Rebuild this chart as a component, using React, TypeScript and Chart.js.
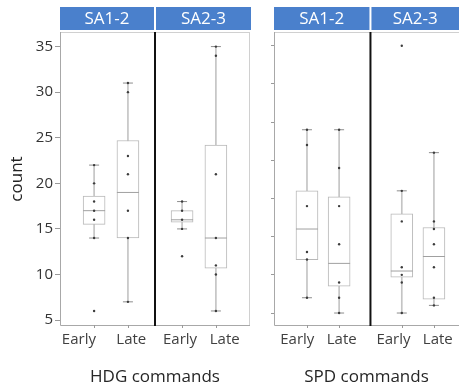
import React, { useEffect, useRef } from "react";
import { Chart, registerables } from "chart.js";

Chart.register(...registerables);

// ---- data ----
const CATEGORIES = ["Early", "Late"];
const FACETS = ["SA1-2", "SA2-3"];
// group order: [SA1-2 Early, SA1-2 Late, SA2-3 Early, SA2-3 Late]

const HDG_Q1 = [15.5, 14, 15.75, 10.7];
const HDG_MEDIAN = [17, 19, 16, 14];
const HDG_Q3 = [18.6, 24.7, 17, 24.2];
const HDG_WHISKER_LOW = [14, 7, 15, 6];
const HDG_WHISKER_HIGH = [22, 31, 18, 35];
const HDG_POINTS = [
  [22, 20, 18, 17, 16, 14, 6],
  [31, 30, 23, 21, 17, 14, 7],
  [18, 17, 16, 15, 12],
  [35, 34, 21, 14, 11, 10, 6],
];

const SPD_Q1 = [7.0, 3.5, 4.7, 1.8];
const SPD_MEDIAN = [11.0, 6.5, 5.5, 7.4];
const SPD_Q3 = [16.0, 15.2, 13.0, 11.2];
const SPD_WHISKER_LOW = [2, 0, 0, 1];
const SPD_WHISKER_HIGH = [24, 24, 16, 21];
const SPD_POINTS = [
  [24, 22, 14, 8, 7, 2],
  [24, 19, 14, 9, 4, 2, 0],
  [35, 16, 12, 6, 5, 4, 0],
  [21, 12, 11, 9, 6, 2, 1],
];

const HDG_Y_TICKS = [5, 10, 15, 20, 25, 30, 35];
const SPD_Y_TICKS = [0, 5, 10, 15, 20, 25, 30, 35];

// ---- layout / style ----
const FONT = '"Open Sans", sans-serif';
const HEADER_BLUE = "#4a80cc";
const BOX_COLOR = "#b8b8b8";
const WHISKER_COLOR = "#c4c4c4";
const CAP_COLOR = "#8c8c8c";
const POINT_COLOR = "#3c3c3c";

type Panel = {
  q1: number[];
  median: number[];
  q3: number[];
  lo: number[];
  hi: number[];
  points: number[][];
  yTicks: number[];
  yMin: number;
  yMax: number;
  facetSpan: number;
  xMin: number;
  xMax: number;
  labelShift: number[];
  yTitle: string | null;
  showYLabels: boolean;
  yAxisWidth: number;
  xTitle: string;
  padRight: number;
  rightBorder: boolean;
};

function groupX(p: Panel, g: number) {
  const facet = Math.floor(g / CATEGORIES.length);
  const cat = g % CATEGORIES.length;
  return facet * p.facetSpan + cat;
}

function decorPlugin(p: Panel) {
  return {
    id: "panelDecor",
    afterDatasetsDraw(chart: any) {
      const { ctx, chartArea: a, scales } = chart;
      const x = scales.x;
      const divVal = (groupX(p, 1) + groupX(p, 2)) / 2;
      const div = x.getPixelForValue(divVal);
      ctx.save();
      // frame top / right
      ctx.lineWidth = 1;
      ctx.strokeStyle = "#d0d0d0";
      ctx.beginPath();
      ctx.moveTo(a.left, a.top + 0.5);
      ctx.lineTo(a.right, a.top + 0.5);
      if (p.rightBorder) {
        ctx.moveTo(a.right - 0.5, a.top);
        ctx.lineTo(a.right - 0.5, a.bottom);
      }
      ctx.stroke();
      // axis lines
      ctx.strokeStyle = "#a8a8a8";
      ctx.beginPath();
      ctx.moveTo(a.left + 0.5, a.top);
      ctx.lineTo(a.left + 0.5, a.bottom - 0.5);
      ctx.lineTo(a.right, a.bottom - 0.5);
      ctx.stroke();
      // x tick marks at group positions
      ctx.strokeStyle = "#999";
      ctx.beginPath();
      for (let g = 0; g < p.q1.length; g++) {
        const px = Math.round(x.getPixelForValue(groupX(p, g))) + 0.5;
        ctx.moveTo(px, a.bottom - 1);
        ctx.lineTo(px, a.bottom + 2);
      }
      ctx.stroke();
      // facet divider
      ctx.strokeStyle = "#111";
      ctx.lineWidth = 2;
      ctx.beginPath();
      ctx.moveTo(div, a.top);
      ctx.lineTo(div, a.bottom);
      ctx.stroke();
      // facet headers
      const hTop = a.top - 25;
      const hBot = a.top - 2;
      const spans = [
        [a.left, div - 1],
        [div + 1, a.right + (p.rightBorder ? 1 : 0)],
      ];
      ctx.font = `17px ${FONT}`;
      ctx.textAlign = "center";
      ctx.textBaseline = "middle";
      FACETS.forEach((f, i) => {
        const [l, r] = spans[i];
        ctx.fillStyle = HEADER_BLUE;
        ctx.fillRect(l, hTop, r - l, hBot - hTop);
        ctx.fillStyle = "#ffffff";
        ctx.fillText(f, (l + r) / 2, (hTop + hBot) / 2 + 1);
      });
      ctx.restore();
    },
  };
}

function buildConfig(p: Panel): any {
  const n = p.q1.length;
  const idx = Array.from({ length: n }, (_, g) => g);
  const whiskers = idx.map((g) => ({ x: groupX(p, g), y: [p.lo[g], p.hi[g]] }));
  const boxes = idx.map((g) => ({ x: groupX(p, g), y: [p.q1[g], p.q3[g]] }));
  const medians = idx.map((g) => ({ x: groupX(p, g), y: p.median[g] }));
  const caps = idx.flatMap((g) => [
    { x: groupX(p, g), y: p.lo[g] },
    { x: groupX(p, g), y: p.hi[g] },
  ]);
  const pts = idx.flatMap((g) => p.points[g].map((v) => ({ x: groupX(p, g), y: v })));

  return {
    type: "bar",
    data: {
      datasets: [
        {
          type: "bar",
          data: whiskers,
          backgroundColor: WHISKER_COLOR,
          borderWidth: 0,
          barThickness: 1,
          grouped: false,
          order: 5,
        },
        {
          type: "bar",
          data: boxes,
          backgroundColor: "#ffffff",
          borderColor: BOX_COLOR,
          borderWidth: 1,
          borderSkipped: false,
          barThickness: 22,
          grouped: false,
          order: 4,
        },
        {
          type: "scatter",
          data: medians,
          pointStyle: "line",
          pointRadius: 11,
          borderColor: "#a0a0a0",
          borderWidth: 1,
          order: 3,
        },
        {
          type: "scatter",
          data: caps,
          pointStyle: "line",
          pointRadius: 5,
          borderColor: CAP_COLOR,
          borderWidth: 1,
          order: 2,
        },
        {
          type: "scatter",
          data: pts,
          pointStyle: "circle",
          pointRadius: 1.2,
          backgroundColor: POINT_COLOR,
          borderWidth: 0,
          order: 1,
        },
      ],
    },
    options: {
      responsive: false,
      animation: false,
      events: [],
      layout: { padding: { top: 32, right: p.padRight, left: 0, bottom: 0 } },
      plugins: { legend: { display: false }, tooltip: { enabled: false } },
      scales: {
        x: {
          type: "linear",
          min: p.xMin,
          max: p.xMax,
          bounds: "data",
          offset: false,
          grid: { display: false, drawTicks: false, offset: false },
          border: { display: false },
          afterBuildTicks: (s: any) => {
            s.ticks = idx.map((g) => ({ value: groupX(p, g) + p.labelShift[g] }));
          },
          afterFit: (s: any) => {
            s.height = 62;
          },
          ticks: {
            autoSkip: false,
            maxRotation: 0,
            minRotation: 0,
            padding: 5,
            color: "#404040",
            font: { family: FONT, size: 15 },
            callback: (_v: any, i: number) => CATEGORIES[i % CATEGORIES.length],
          },
          title: {
            display: true,
            text: p.xTitle,
            color: "#262626",
            font: { family: FONT, size: 17 },
            padding: { top: 0, bottom: 1 },
          },
        },
        y: {
          type: "linear",
          min: p.yMin,
          max: p.yMax,
          bounds: "data",
          afterBuildTicks: (s: any) => {
            s.ticks = p.yTicks.map((v) => ({ value: v }));
          },
          afterFit: (s: any) => {
            s.width = p.yAxisWidth;
          },
          grid: {
            drawOnChartArea: false,
            drawTicks: true,
            tickLength: p.showYLabels ? 5 : 3,
            color: "#9a9a9a",
          },
          border: { display: false },
          ticks: {
            display: p.showYLabels,
            padding: 2,
            color: "#333",
            font: { family: FONT, size: 15 },
          },
          title: {
            display: !!p.yTitle,
            text: p.yTitle || "",
            color: "#222",
            font: { family: FONT, size: 17 },
            padding: { top: 7, bottom: 0 },
          },
        },
      },
    },
    plugins: [decorPlugin(p)],
  };
}

const HDG_PANEL: Panel = {
  q1: HDG_Q1,
  median: HDG_MEDIAN,
  q3: HDG_Q3,
  lo: HDG_WHISKER_LOW,
  hi: HDG_WHISKER_HIGH,
  points: HDG_POINTS,
  yTicks: HDG_Y_TICKS,
  yMin: 4.35,
  yMax: 36.6,
  facetSpan: 2.6,
  xMin: -1.008,
  xMax: 4.608,
  labelShift: [-0.45, 0.1, -0.06, 0.26],
  yTitle: "count",
  showYLabels: true,
  yAxisWidth: 60,
  xTitle: "HDG commands",
  padRight: 7,
  rightBorder: true,
};

const SPD_PANEL: Panel = {
  q1: SPD_Q1,
  median: SPD_MEDIAN,
  q3: SPD_Q3,
  lo: SPD_WHISKER_LOW,
  hi: SPD_WHISKER_HIGH,
  points: SPD_POINTS,
  yTicks: SPD_Y_TICKS,
  yMin: -1.7,
  yMax: 36.8,
  facetSpan: 2.95,
  xMin: -1.026,
  xMax: 4.73,
  labelShift: [-0.3, 0.08, -0.26, 0.12],
  yTitle: null,
  showYLabels: false,
  yAxisWidth: 7,
  xTitle: "SPD commands",
  padRight: 0,
  rightBorder: false,
};

function PanelChart({ panel, left, width }: { panel: Panel; left: number; width: number }) {
  const ref = useRef<HTMLCanvasElement | null>(null);
  useEffect(() => {
    if (!ref.current) return;
    const chart = new Chart(ref.current, buildConfig(panel));
    return () => chart.destroy();
  }, [panel]);
  return (
    <canvas
      ref={ref}
      width={width}
      height={388}
      style={{ position: "absolute", left, top: 0, width, height: 388 }}
    />
  );
}

export default function App() {
  return (
    <div
      style={{
        position: "fixed",
        left: 0,
        top: 0,
        width: 471,
        height: 388,
        background: "#ffffff",
        overflow: "hidden",
      }}
    >
      <PanelChart panel={HDG_PANEL} left={0} width={262} />
      <PanelChart panel={SPD_PANEL} left={262} width={209} />
    </div>
  );
}
